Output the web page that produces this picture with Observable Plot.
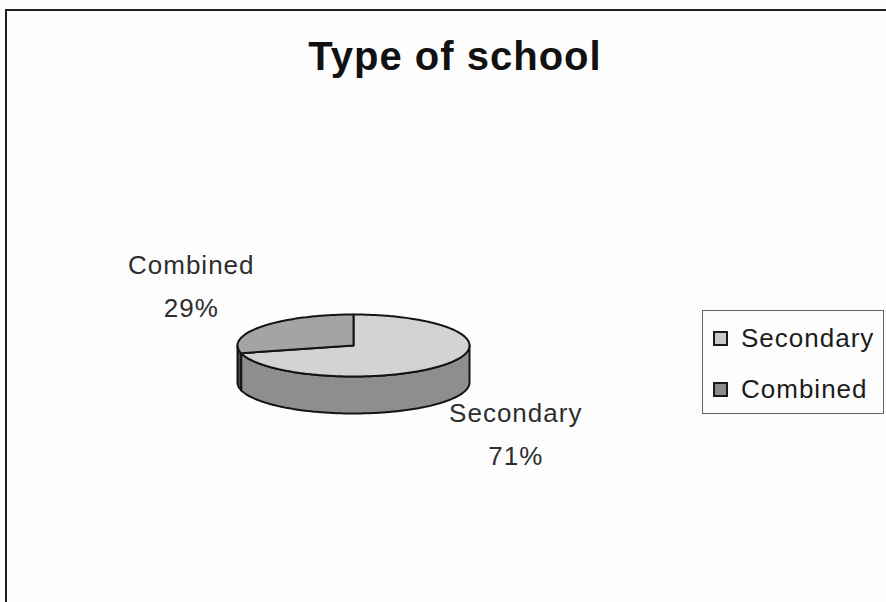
<!DOCTYPE html>
<html>
<head>
<meta charset="utf-8">
<script src="https://cdn.jsdelivr.net/npm/d3@7"></script>
<script src="https://cdn.jsdelivr.net/npm/@observablehq/plot@0.6"></script>
<style>
  html, body { margin: 0; padding: 0; background: #fdfdfd; overflow: hidden; }
  #chart { position: relative; width: 886px; height: 602px; overflow: hidden;
           font-family: "Liberation Sans", Arial, sans-serif; }
  #frame { position: absolute; left: 5px; top: 9px; width: 1000px; height: 700px;
           border-top: 2.5px solid #1e1e1e; border-left: 2.5px solid #1e1e1e; }
  #title { position: absolute; left: 0; top: 36px; width: 910px; text-align: center;
           font-size: 40px; line-height: 40px; font-weight: bold; color: #111;
           letter-spacing: 1px; }
  #plot { position: absolute; left: 0; top: 0; }
  #legend { position: absolute; left: 702px; top: 310px; width: 182px; height: 104px;
            border: 1px solid #666; box-sizing: border-box; }
  .item { position: absolute; left: 10px; height: 30px; display: flex; align-items: center;
          font-size: 26px; letter-spacing: 1px; color: #1c1c1c; }
  .swatch { width: 11px; height: 11px; border: 2.5px solid #1a1a1a; margin-right: 13px; }
</style>
</head>
<body>
<div id="chart">
  <div id="frame"></div>
  <div id="title">Type of school</div>
  <div id="plot"></div>
  <div id="legend"></div>
</div>
<script>
// School types and their share of the sample (percent)
const categories = ["Secondary", "Combined"];
const shares = [71, 29];

// Fill colours: top face and side wall of each slice
const topColors = ["#d3d3d3", "#a4a4a4"];
const sideColors = ["#8e8e8e", "#4a4a4a"];
const legendColors = ["#c9c9c9", "#8a8a8a"];

// 3D pie geometry in radius units: vertical squash of the disc and wall depth
const TILT = 31 / 116;
const DEPTH = 37 / 116;

const arcs = d3.pie().sort(null).value(d => d)(shares);
const STEP = Math.PI / 180;

function angles(a0, a1) {
  const out = [];
  const n = Math.max(2, Math.ceil((a1 - a0) / STEP));
  for (let k = 0; k <= n; k++) out.push(a0 + (a1 - a0) * k / n);
  return out;
}
const rimPoint = (a, drop = 0) => ({x: Math.sin(a), y: TILT * Math.cos(a) - drop});

const polys = [];
// side walls: only the front half of the rim (pointing towards the viewer) is visible
arcs.forEach((a, i) => {
  const lo = Math.max(a.startAngle, Math.PI / 2);
  const hi = Math.min(a.endAngle, 3 * Math.PI / 2);
  if (hi <= lo) return;
  const id = "side-" + i;
  const upper = angles(lo, hi).map(t => rimPoint(t));
  const lower = angles(lo, hi).reverse().map(t => rimPoint(t, DEPTH));
  [...upper, ...lower, upper[0]].forEach(p => polys.push({...p, id, fill: sideColors[i]}));
});
// top faces
arcs.forEach((a, i) => {
  const id = "top-" + i;
  const pts = [{x: 0, y: 0}, ...angles(a.startAngle, a.endAngle).map(t => rimPoint(t)), {x: 0, y: 0}];
  pts.forEach(p => polys.push({...p, id, fill: topColors[i]}));
});

// data labels placed outward along each slice's middle angle
const labels = arcs.map((a, i) => {
  const mid = (a.startAngle + a.endAngle) / 2;
  const c = Math.cos(mid);
  return {
    x: 1.77 * Math.sin(mid),
    y: 0.78 * c - (c < 0 ? DEPTH : 0),
    text: categories[i] + "\n" + shares[i] + "%"
  };
});

const chart = Plot.plot({
  width: 886,
  height: 602,
  margin: 0,
  style: {background: "transparent", fontFamily: "Liberation Sans, Arial, sans-serif", letterSpacing: "1px"},
  x: {domain: [-353 / 116, 533 / 116], axis: null},
  y: {domain: [-257 / 116, 345 / 116], axis: null},
  color: {type: "identity"},
  marks: [
    Plot.line(polys, {x: "x", y: "y", z: "id", fill: "fill", stroke: "#141414",
                      strokeWidth: 2, strokeLinejoin: "round", curve: "linear"}),
    Plot.text(labels, {x: "x", y: "y", text: "text", fontSize: 26, lineHeight: 1.65,
                       dy: -8, fill: "#2e2e2e", textAnchor: "middle"})
  ]
});
document.getElementById("plot").appendChild(chart);

// legend built from the same categories
const legend = d3.select("#legend");
categories.forEach((c, i) => {
  const item = legend.append("div").attr("class", "item").style("top", (12 + i * 51) + "px");
  item.append("div").attr("class", "swatch").style("background", legendColors[i]);
  item.append("span").text(c);
});
</script>
</body>
</html>
